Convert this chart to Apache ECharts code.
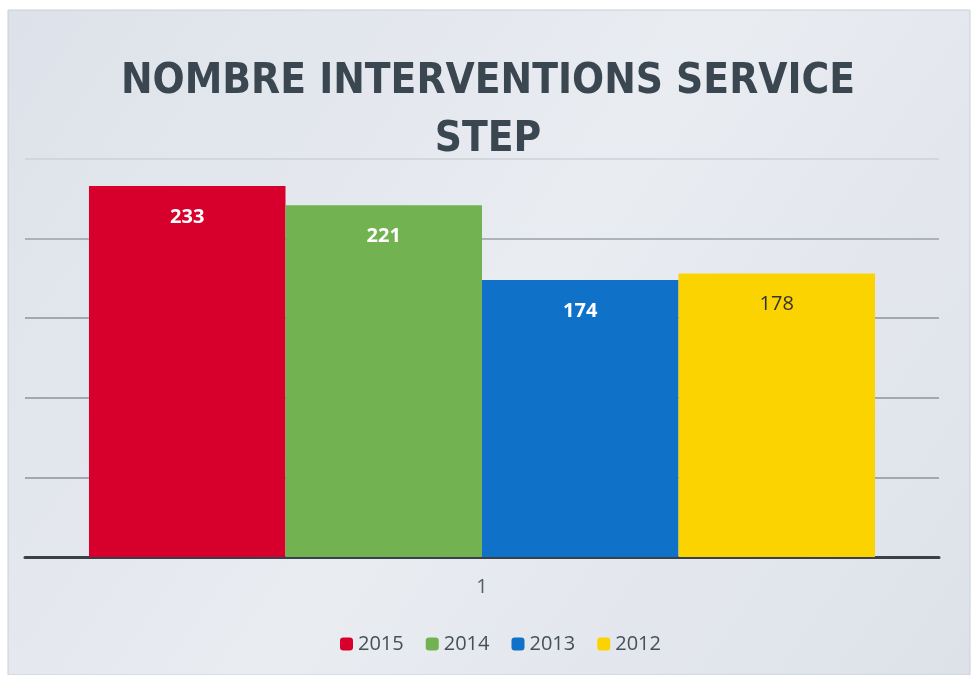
<!DOCTYPE html>
<html>
<head>
<meta charset="utf-8">
<script src="https://cdn.jsdelivr.net/npm/echarts@6/dist/echarts.min.js"></script>
<style>
  html, body { margin: 0; padding: 0; background: #ffffff; }
  #chart { width: 976px; height: 675px; }
</style>
</head>
<body>
<div id="chart"></div>
<script>
// data
var categories = ['1'];
var years = ['2015', '2014', '2013', '2012'];
var values2015 = [233];
var values2014 = [221];
var values2013 = [174];
var values2012 = [178];
var yTicks = [0, 50, 100, 150, 200, 250];

var colors = ['#d7002d', '#72b251', '#0f72c8', '#fbd300'];
var labelColors = ['#ffffff', '#ffffff', '#ffffff', '#333333'];
var seriesData = [values2015, values2014, values2013, values2012];

var chart = echarts.init(document.getElementById('chart'));

var series = years.map(function (y, i) {
  return {
    name: y,
    type: 'bar',
    data: seriesData[i],
    barGap: '0%',
    barCategoryGap: '14%',
    itemStyle: { color: colors[i] },
    label: {
      show: true,
      position: 'insideTop',
      distance: 21,
      color: labelColors[i],
      fontSize: 20,
      fontWeight: i === 3 ? 'normal' : 'bold',
      fontFamily: 'Open Sans'
    }
  };
});

chart.setOption({
  backgroundColor: '#ffffff',
  animation: false,
  graphic: [{
    type: 'rect',
    z: -10,
    shape: { x: 8, y: 10, width: 962, height: 665 },
    style: {
      fill: new echarts.graphic.LinearGradient(0, 0, 1, 1, [
        { offset: 0, color: '#dde2ea' },
        { offset: 0.5, color: '#e9ecf1' },
        { offset: 1, color: '#dde2e9' }
      ]),
      stroke: '#c9ced6',
      lineWidth: 1
    }
  }],
  title: {
    text: 'NOMBRE INTERVENTIONS SERVICE\nSTEP',
    left: 'center',
    top: 48,
    textStyle: {
      fontFamily: 'DejaVu Sans Condensed, Roboto',
      fontWeight: 'bold',
      fontSize: 42,
      lineHeight: 58,
      color: '#3a4650'
    }
  },
  legend: {
    data: years,
    bottom: 16,
    left: 335,
    icon: 'roundRect',
    itemWidth: 13,
    itemHeight: 13,
    itemGap: 22,
    textStyle: { fontSize: 20, color: '#45505b', fontFamily: 'Open Sans' }
  },
  grid: { left: 25, right: 37, top: 159, bottom: 118 },
  xAxis: {
    type: 'category',
    data: categories,
    axisLine: { lineStyle: { color: '#3a4049', width: 3 } },
    axisTick: { show: false },
    axisLabel: { fontSize: 20, color: '#555d66', margin: 20, fontFamily: 'Open Sans' }
  },
  yAxis: {
    type: 'value',
    min: yTicks[0],
    max: yTicks[yTicks.length - 1],
    interval: 50,
    axisLine: { show: false },
    axisTick: { show: false },
    axisLabel: { show: false },
    splitLine: {
      lineStyle: {
        color: ['#8d939b', '#8d939b', '#8d939b', '#8d939b', '#9aa0a8', '#cdd1d8'],
        width: 1.5
      }
    }
  },
  series: series
});
</script>
</body>
</html>
